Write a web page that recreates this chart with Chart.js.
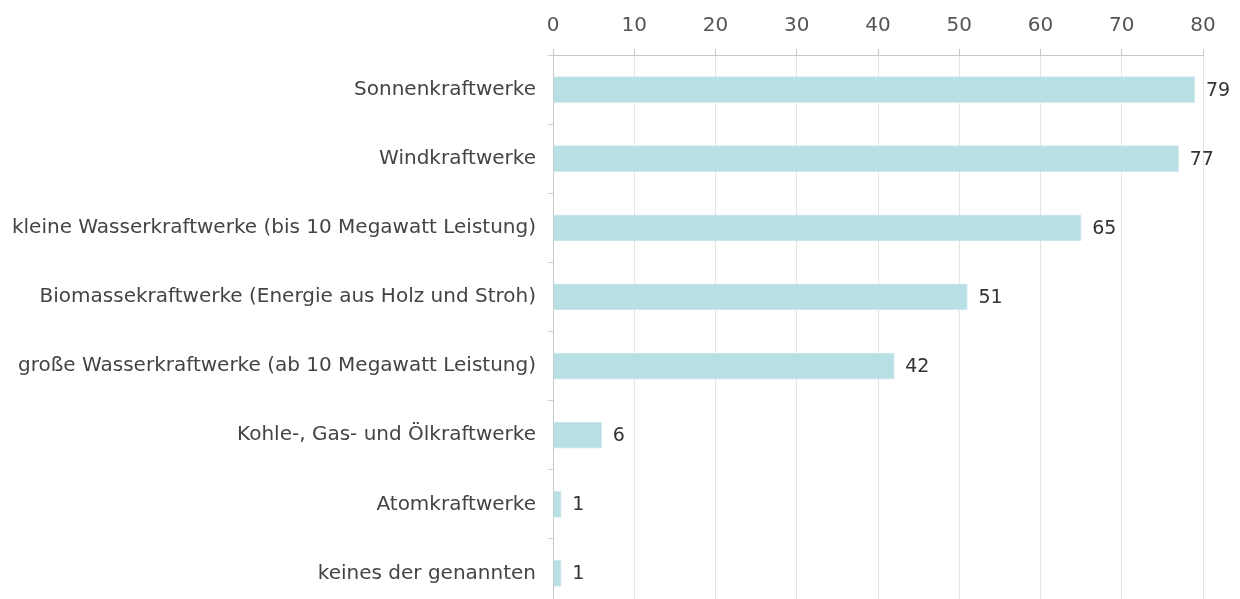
<!DOCTYPE html>
<html>
<head>
<meta charset="utf-8">
<script src="https://cdn.jsdelivr.net/npm/chart.js@4"></script>
<style>
  body { margin: 0; background: #fff; overflow: hidden; }
  #wrap { width: 1240px; height: 608px; }
</style>
</head>
<body>
<div id="wrap"><canvas id="grafico" width="1240" height="608"></canvas></div>
<script>
const kategorien = [
    'Sonnenkraftwerke',
    'Windkraftwerke',
    'kleine Wasserkraftwerke (bis 10 Megawatt Leistung)',
    'Biomassekraftwerke (Energie aus Holz und Stroh)',
    'große Wasserkraftwerke (ab 10 Megawatt Leistung)',
    'Kohle-, Gas- und Ölkraftwerke',
    'Atomkraftwerke',
    'keines der genannten'
];
const werte = [79, 77, 65, 51, 42, 6, 1, 1];
const achseMin = 0;
const achseMax = 80;
const schritt = 10;

const schrift = 'DejaVu Sans';

// Werte rechts neben die Balken schreiben
const wertBeschriftung = {
    id: 'wertBeschriftung',
    afterDatasetsDraw(chart) {
        const ctx = chart.ctx;
        ctx.save();
        ctx.font = '19px "' + schrift + '"';
        ctx.fillStyle = '#333';
        ctx.textAlign = 'left';
        ctx.textBaseline = 'middle';
        chart.getDatasetMeta(0).data.forEach((balken, i) => {
            ctx.fillText(werte[i], balken.x + 11, balken.y + 1);
        });
        ctx.restore();
    }
};

const grafico = new Chart(document.getElementById('grafico'), {
    type: 'bar',
    data: {
        labels: kategorien,
        datasets: [{
            data: werte,
            backgroundColor: '#b8dfe4',
            borderColor: '#d3eaee',
            borderWidth: 1,
            barThickness: 26
        }]
    },
    options: {
        indexAxis: 'y',
        responsive: false,
        animation: false,
        layout: { padding: { top: 0, right: 37, bottom: 0, left: 0 } },
        plugins: {
            legend: { display: false },
            tooltip: { enabled: false }
        },
        scales: {
            x: {
                position: 'top',
                min: achseMin,
                max: achseMax,
                afterFit(scale) { scale.height = 55; },
                ticks: {
                    stepSize: schritt,
                    padding: 11,
                    color: '#555',
                    font: { family: schrift, size: 20 }
                },
                grid: { color: '#e4e4e4', tickLength: 6, tickColor: '#c8c8c8' },
                border: { color: '#c8c8c8' }
            },
            y: {
                afterFit(scale) {
                    scale.width = 553;
                    scale.paddingTop = 0;
                    scale.paddingBottom = 0;
                },
                ticks: {
                    padding: 12,
                    color: '#444',
                    font: { family: schrift, size: 20 }
                },
                grid: { drawOnChartArea: false, tickLength: 5, offset: true, tickColor: '#d0d0d0' },
                border: { color: '#c8c8c8' }
            }
        }
    },
    plugins: [wertBeschriftung]
});
</script>
</body>
</html>
